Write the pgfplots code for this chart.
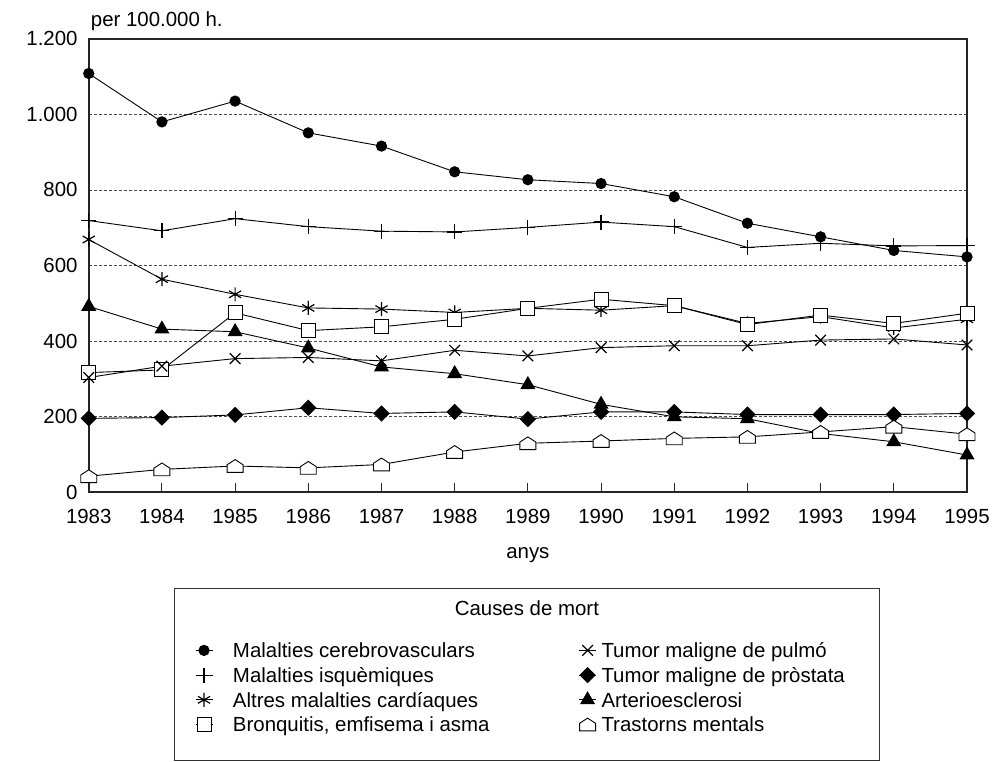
\documentclass[border=0pt]{standalone}
\usepackage{fontspec}
\setmainfont{Liberation Sans}
\usepackage{pgfplots}
\pgfplotsset{compat=1.18}

\pgfdeclareplotmark{house}{%
 \pgfpathmoveto{\pgfqpoint{-\pgfplotmarksize}{-0.8\pgfplotmarksize}}%
 \pgfpathlineto{\pgfqpoint{\pgfplotmarksize}{-0.8\pgfplotmarksize}}%
 \pgfpathlineto{\pgfqpoint{\pgfplotmarksize}{0.15\pgfplotmarksize}}%
 \pgfpathlineto{\pgfqpoint{0pt}{0.8\pgfplotmarksize}}%
 \pgfpathlineto{\pgfqpoint{-\pgfplotmarksize}{0.15\pgfplotmarksize}}%
 \pgfpathclose
 \pgfusepathqfillstroke}

\newcommand{\chartfont}{\fontsize{20.5}{24}\selectfont}

\begin{document}
\begin{tikzpicture}
\begin{axis}[name=ax,
 scale only axis, width=878bp, height=453.6bp,
 xmin=1983, xmax=1995, ymin=0, ymax=1200,
 xtick={1983,1984,1985,1986,1987,1988,1989,1990,1991,1992,1993,1994,1995},
 xticklabels={1983,1984,1985,1986,1987,1988,1989,1990,1991,1992,1993,1994,1995},
 ytick={0,200,400,600,800,1000,1200},
 yticklabels={0,200,400,600,800,1.000,1.200},
 /pgf/number format/assume math mode=true,
 axis line style={line width=2bp, black!85},
 tick align=inside, xtick pos=left, ytick pos=left,
 major tick length=9bp,
 xtick style={line width=1bp, black!85},
 ytick style={draw=none},
 ymajorgrids, grid style={line width=0.9bp, black!70, dash pattern=on 3bp off 2bp},
 every tick label/.append style={font=\chartfont},
 xticklabel style={anchor=base, yshift=-31bp, inner sep=0pt},
 yticklabel style={inner sep=0pt, xshift=-11bp},
 xlabel={anys},
 xlabel style={at={(axis description cs:0.5,-0.1455)}, anchor=base, font=\chartfont, inner sep=0pt},
 clip=false,
 every axis plot/.append style={line width=0.9bp, black, mark options={solid, line width=1.2bp}},
 legend image code/.code={\draw[mark repeat=2,mark phase=2,#1] plot coordinates {(0bp,0bp)(8.5bp,0bp)(17bp,0bp)};},
 legend columns=4, transpose legend,
 legend cell align=left,
 legend style={at={(axis description cs:0.1211,-0.3231)}, anchor=north west,
   draw=none, fill=none, inner sep=0pt, outer sep=0pt, row sep=2bp,
   font=\chartfont,
   nodes={inner sep=0pt, text height=18.7bp, text depth=4bp},
   /tikz/column 1/.style={column sep=20bp},
   /tikz/column 2/.style={column sep=89bp},
   /tikz/column 3/.style={column sep=5bp}},
]
\addplot[mark=*, mark size=5bp] coordinates {
(1983,1108) (1984,980) (1985,1035) (1986,951) (1987,916) (1988,848) (1989,827)
(1990,817) (1991,782) (1992,712) (1993,676) (1994,640) (1995,623)};
\addlegendentry{Malalties cerebrovasculars}
\addplot[mark=+, mark size=7.5bp] coordinates {
(1983,719) (1984,692) (1985,724) (1986,703) (1987,691) (1988,689) (1989,701)
(1990,715) (1991,703) (1992,648) (1993,659) (1994,652) (1995,653)};
\addlegendentry{Malalties isquèmiques}
\addplot[mark=asterisk, mark size=7bp] coordinates {
(1983,669) (1984,564) (1985,524) (1986,488) (1987,485) (1988,476) (1989,487)
(1990,482) (1991,494) (1992,447) (1993,465) (1994,435) (1995,458)};
\addlegendentry{Altres malalties cardíaques}
\addplot[mark=square*, mark size=7bp, mark options={fill=white, draw=black}] coordinates {
(1983,317) (1984,324) (1985,475) (1986,428) (1987,438) (1988,458) (1989,487)
(1990,511) (1991,494) (1992,444) (1993,469) (1994,447) (1995,474)};
\addlegendentry{Bronquitis, emfisema i asma}
\addplot[mark=x, mark size=7.5bp] coordinates {
(1983,304) (1984,334) (1985,354) (1986,357) (1987,348) (1988,376) (1989,361)
(1990,383) (1991,388) (1992,388) (1993,403) (1994,406) (1995,390)};
\addlegendentry{Tumor maligne de pulmó}
\addplot[mark=square*, mark size=5.3bp, mark options={rotate=45}] coordinates {
(1983,196) (1984,198) (1985,205) (1986,224) (1987,209) (1988,213) (1989,194)
(1990,213) (1991,213) (1992,206) (1993,206) (1994,206) (1995,209)};
\addlegendentry{Tumor maligne de pròstata}
\addplot[mark=triangle*, mark size=7.5bp] coordinates {
(1983,492) (1984,432) (1985,425) (1986,382) (1987,332) (1988,314) (1989,285)
(1990,233) (1991,200) (1992,195) (1993,156) (1994,134) (1995,99)};
\addlegendentry{Arterioesclerosi}
\addplot[mark=house, mark size=8bp, mark options={fill=white, draw=black}] coordinates {
(1983,43) (1984,61) (1985,70) (1986,65) (1987,74) (1988,107) (1989,130)
(1990,136) (1991,143) (1992,147) (1993,160) (1994,174) (1995,154)};
\addlegendentry{Trastorns mentals}

\draw[black!80, line width=1bp] (axis description cs:0.0972,-0.2110) rectangle (axis description cs:0.9001,-0.5902);
\node[anchor=base, font=\chartfont, inner sep=0pt] at (axis description cs:0.4989,-0.2712) {Causes de mort};
\node[anchor=base west, font=\chartfont, inner sep=0pt] at (axis description cs:0.0023,1.028) {per 100.000 h.};
\end{axis}
\path ([shift={(-88.7bp,-268.7bp)}]ax.south west) rectangle ([shift={(31bp,38.7bp)}]ax.north east);
\end{tikzpicture}
\end{document}
